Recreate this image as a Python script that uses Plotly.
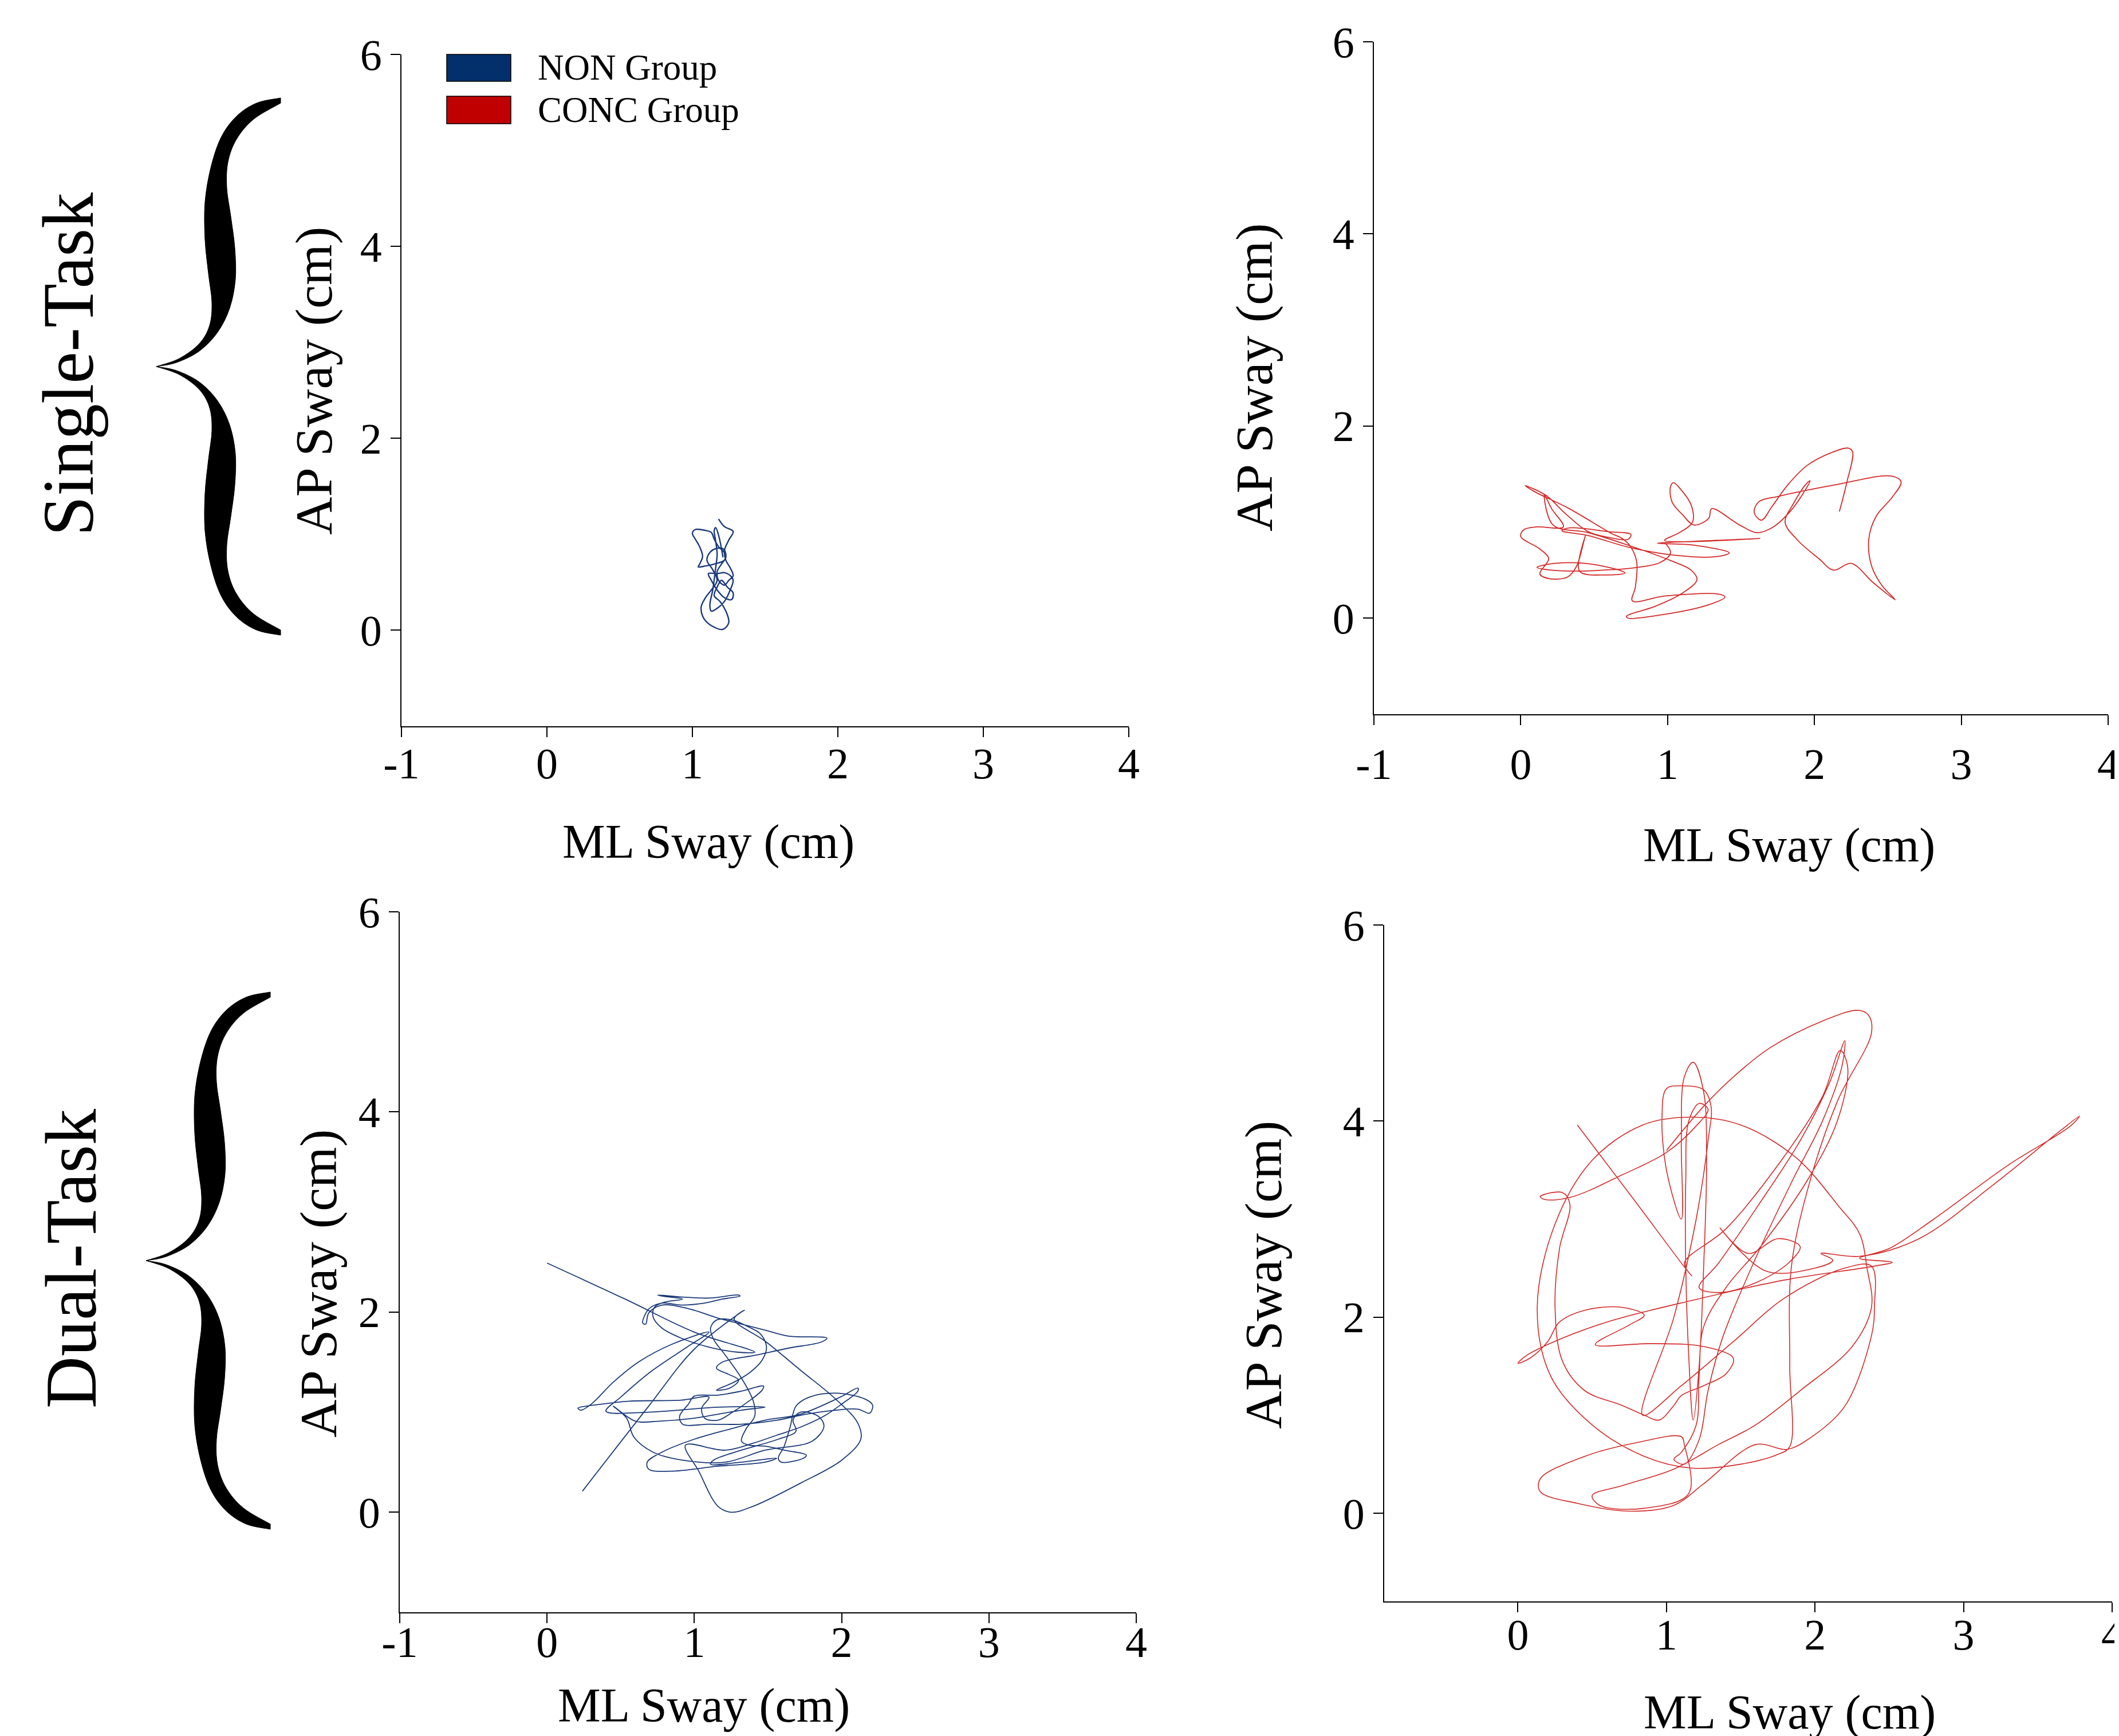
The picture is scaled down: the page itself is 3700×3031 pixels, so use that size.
import plotly.graph_objects as go

W, H = 3700, 3031
FONT = "Liberation Serif"
BLUE = "#1b3a7a"
RED = "#d42a2a"

# ---------------- data (cm) ----------------
# Single-task, NON group
st_non_x = [1.18,1.22,1.28,1.25,1.22,1.23,1.26,1.28,1.25,1.22,1.18,1.17,1.20,1.23,1.22,1.18,1.15,1.13,1.09,1.02,
            1.00,1.02,1.05,1.07,1.05,1.04,1.09,1.15,1.22,1.23,1.21,1.16,1.12,1.10,1.14,1.17,1.13,1.09,1.06,1.08,
            1.14,1.21,1.25,1.23,1.19,1.15,1.17,1.20,1.24,1.28,1.27,1.22,1.17,1.13,1.11,1.17,1.22,1.26,1.28,1.26,
            1.22,1.18,1.13,1.12,1.14,1.15,1.16,1.17,1.16,1.15,1.16,1.18,1.20,1.21]
st_non_y = [1.16,1.08,1.03,0.94,0.83,0.73,0.65,0.57,0.52,0.47,0.52,0.61,0.69,0.76,0.81,0.87,0.95,1.02,1.04,1.05,
            1.01,0.95,0.87,0.77,0.69,0.66,0.67,0.69,0.73,0.79,0.85,0.85,0.81,0.73,0.63,0.52,0.42,0.34,0.24,0.12,
            0.04,0.01,0.08,0.20,0.30,0.36,0.45,0.52,0.45,0.39,0.32,0.34,0.42,0.52,0.59,0.59,0.60,0.57,0.52,0.42,
            0.30,0.24,0.20,0.26,0.42,0.53,0.65,0.79,0.93,1.04,1.07,0.99,0.85,0.76]

# Single-task, CONC group
st_conc_x = [2.17,2.22,2.26,2.23,2.11,1.95,1.82,1.71,1.64,1.59,1.62,1.76,2.15,2.52,2.59,2.53,2.42,2.37,2.39,2.46,
             2.55,2.40,2.25,2.13,2.03,1.88,1.80,1.86,1.94,1.97,1.94,1.84,1.72,1.61,1.49,1.30,1.28,1.18,1.10,1.03,
             1.02,1.04,1.09,1.16,1.17,1.08,0.98,1.63,1.18,0.93,1.18,1.42,1.33,1.02,0.73,0.46,0.28,0.33,0.60,0.75,
             0.73,0.60,0.46,0.31,0.17,0.03,0.09,0.33,0.62,0.69,0.75,0.79,0.78,0.76,0.98,1.35,1.39,1.28,0.98,0.73,
             0.72,0.91,1.10,1.20,1.16,1.02,0.75,0.46,0.22,0.16,0.21,0.29,0.11,0.02,0.00,0.13,0.19,0.13,0.20,0.32,
             0.38,0.42,0.44,0.40,0.58,0.71,0.67,0.44,0.23,0.11,0.21,0.38,0.56,0.75,0.95,1.02,0.98]
st_conc_y = [1.11,1.41,1.73,1.77,1.72,1.59,1.39,1.16,1.02,1.10,1.21,1.27,1.39,1.48,1.42,1.26,1.06,0.82,0.54,0.34,
             0.19,0.37,0.57,0.50,0.62,0.82,1.00,1.20,1.39,1.43,1.34,1.12,0.95,0.89,0.97,1.14,1.04,0.97,1.08,1.21,
             1.37,1.41,1.34,1.18,1.00,0.89,0.81,0.83,0.80,0.78,0.76,0.68,0.64,0.66,0.74,0.86,0.91,0.94,0.90,0.87,
             0.82,0.84,0.90,1.08,1.28,1.38,1.32,1.14,0.88,0.83,0.74,0.58,0.32,0.18,0.23,0.25,0.22,0.14,0.04,0.00,
             0.02,0.12,0.26,0.40,0.50,0.60,0.75,0.89,0.97,1.29,1.14,0.95,0.95,0.92,0.85,0.72,0.62,0.46,0.41,0.43,
             0.54,0.74,0.86,0.49,0.45,0.47,0.50,0.57,0.57,0.53,0.50,0.49,0.50,0.52,0.58,0.68,0.79]

# Dual-task, NON group
dt_non_x = [0.00,0.53,1.00,1.41,1.29,1.10,0.91,0.78,0.72,0.73,0.80,0.92,0.78,0.75,0.92,1.10,1.30,1.31,1.19,1.07,
            0.91,0.78,0.69,0.65,0.67,0.69,0.78,0.97,1.16,1.32,1.48,1.64,1.90,1.86,1.64,1.42,1.19,1.15,1.23,1.30,
            1.24,1.15,1.27,1.38,1.46,1.49,1.45,1.37,1.26,1.15,1.11,1.13,1.21,1.32,1.40,1.41,1.35,1.32,1.37,1.48,
            1.61,1.76,1.74,1.59,1.57,1.61,1.65,1.69,1.78,1.96,2.16,2.21,2.19,2.11,1.96,1.76,1.56,1.32,1.10,0.92,
            0.90,0.96,1.00,1.16,1.32,1.47,1.46,1.37,1.26,1.16,1.07,1.05,1.10,
            0.91,0.56,0.37,0.21,0.23,0.30,0.45,0.62,0.85,1.10,0.95,0.70,0.50,0.40,
            0.69,1.16,1.48,1.32,1.00,0.76,0.60,0.45,0.54,0.59,0.72,0.92,1.21,
            1.48,1.80,1.88,1.84,1.72,1.67,1.69,1.57,1.32,1.13,1.11,1.32,1.56,1.48,1.16,0.84,0.69,0.68,0.78,1.00,
            1.24,1.48,1.72,1.99,2.11,2.11,2.00,1.88,1.72,1.56,1.40,1.21,
            0.94,1.03,1.16,1.25,1.40,1.72,2.00,2.13,2.11,1.96,1.72,1.48,1.27,1.34,
            1.00,0.69,0.24]
dt_non_y = [2.49,2.13,1.80,1.60,1.60,1.65,1.74,1.84,1.95,2.05,2.10,2.13,2.16,2.17,2.15,2.14,2.17,2.16,2.13,2.09,
            2.07,2.09,2.03,1.89,1.88,1.99,2.07,2.03,1.94,1.88,1.82,1.76,1.74,1.70,1.64,1.57,1.50,1.44,1.38,1.32,
            1.24,1.22,1.30,1.40,1.52,1.65,1.78,1.85,1.92,1.92,1.84,1.73,1.57,1.34,1.11,0.96,0.83,0.71,0.67,0.66,
            0.62,0.57,0.54,0.50,0.54,0.66,0.85,1.06,1.15,1.19,1.13,1.07,0.99,1.03,1.02,0.98,0.92,0.88,0.88,0.88,
            0.96,1.08,1.16,1.17,1.21,1.26,1.22,1.11,1.00,0.92,0.94,1.04,1.15,
            1.12,1.11,1.08,1.04,1.02,1.08,1.30,1.50,1.68,1.80,1.65,1.40,1.15,1.01,
            1.00,1.05,1.05,1.02,0.94,0.91,0.91,1.06,0.94,0.75,0.60,0.52,0.50,
            0.62,0.71,0.86,0.96,1.00,0.92,0.81,0.73,0.62,0.52,0.48,0.50,0.54,0.50,0.46,0.41,0.43,0.50,0.60,0.73,
            0.83,0.92,0.98,1.15,1.24,1.21,1.08,0.96,0.85,0.77,0.69,0.62,
            0.67,0.41,0.06,0.00,0.06,0.29,0.52,0.73,0.89,1.13,1.42,1.71,1.93,2.02,
            1.63,1.06,0.21]

# Dual-task, CONC group
dt_conc_x = [0.40,0.78,1.17,1.12,1.40,1.75,2.05,2.17,2.22,2.15,1.95,1.65,1.40,1.25,1.22,1.20,1.10,1.05,1.12,1.22,
             1.28,1.38,1.60,1.85,2.05,2.18,2.20,2.10,1.90,1.60,1.35,1.22,
             1.35,1.60,1.82,1.90,1.75,1.55,1.36,1.67,2.00,2.12,2.04,2.30,2.70,3.20,3.65,3.78,3.72,3.30,2.80,2.50,
             2.30,2.52,2.40,
             1.80,1.20,0.60,0.20,0.05,0.00,0.08,0.20,0.28,0.45,0.70,0.85,0.75,0.52,0.90,1.25,1.45,1.40,1.25,1.10,
             1.05,0.95,
             0.85,0.70,0.45,0.30,0.25,0.28,0.35,0.30,0.15,0.18,0.35,0.70,1.00,1.20,1.28,1.22,1.15,
             1.13,1.13,1.15,1.18,1.22,1.25,1.27,1.25,1.18,1.12,1.10,1.10,
             1.00,0.97,1.00,1.10,1.25,1.30,1.28,1.20,1.05,0.84,1.10,1.45,1.80,2.20,2.38,
             2.40,2.38,2.20,1.95,1.81,1.60,
             1.25,1.05,0.75,0.40,0.15,0.15,0.45,0.80,1.10,1.12,1.15,0.85,0.55,0.50,0.70,1.05,1.35,1.60,1.90,2.25,
             2.38,2.35,
             2.30,2.16,1.87,1.50,1.17,0.84,0.50,0.25,0.13,0.22,0.50,0.85,1.17,1.50,1.75,
             1.83,1.83,1.84,1.95,2.15,2.38,2.36,2.29,2.05,1.70,1.45,1.25,1.00]
dt_conc_y = [3.96,3.20,2.42,2.55,2.90,3.55,4.25,4.72,4.55,4.00,3.40,2.75,2.30,1.90,1.40,0.90,0.62,0.55,0.50,0.75,
             1.25,1.80,2.60,3.40,4.00,4.55,4.82,4.40,3.80,3.10,2.55,2.30,
             2.25,2.35,2.55,2.72,2.80,2.65,2.91,2.47,2.50,2.58,2.65,2.62,2.80,3.35,3.90,4.05,3.95,3.55,3.00,2.70,
             2.60,2.56,2.52,
             2.38,2.18,1.95,1.72,1.60,1.53,1.58,1.75,1.95,2.07,2.10,2.02,1.92,1.72,1.73,1.70,1.58,1.42,1.30,1.20,
             1.10,0.95,
             1.00,1.10,1.25,1.55,2.10,2.70,3.15,3.27,3.23,3.20,3.22,3.45,3.68,3.95,4.12,4.18,4.00,
             3.40,2.50,1.60,0.95,1.50,2.50,3.60,4.30,4.60,4.45,3.80,3.00,
             3.50,4.05,4.33,4.36,4.32,4.15,3.80,3.00,2.00,1.00,1.30,1.75,2.20,2.50,2.52,
             2.10,1.81,1.09,0.75,0.65,0.70,
             0.30,0.08,0.02,0.10,0.22,0.35,0.58,0.72,0.78,0.70,0.20,0.05,0.08,0.18,0.28,0.45,0.70,0.90,1.25,1.70,
             2.10,2.50,
             2.85,3.13,3.63,3.96,4.04,3.96,3.60,2.95,2.10,1.40,0.90,0.58,0.46,0.50,0.60,
             0.68,1.50,2.50,3.30,4.20,4.90,5.08,5.13,5.02,4.75,4.45,4.15,3.70]

x_ticks = [-1, 0, 1, 2, 3, 4]
x_ticks_dt_conc = [0, 1, 2, 3, 4]
y_ticks = [0, 2, 4, 6]
x_title = "ML Sway (cm)"
y_title = "AP Sway (cm)"
groups = ["NON Group", "CONC Group"]
conditions = ["Single-Task", "Dual-Task"]

# ---------------- layout geometry (pixels) ----------------
def px(x):
    return x / W

def py(y):
    return 1 - y / H

panels = [
    dict(x=st_non_x, y=st_non_y, color=BLUE, lw=2.4, xd=(693, 1963), yd=(87, 1260), xr=[-1, 4], yr=[-1, 6],
         xt=x_ticks, ytl=(540, 657), xtl=(1229, 1462), so=-19),
    dict(x=st_conc_x, y=st_conc_y, color=RED, lw=1.8, xd=(2391, 3673), yd=(65, 1239), xr=[-1, 4], yr=[-1, 6],
         xt=x_ticks, ytl=(2182, 651), xtl=(3116, 1468), so=3),
    dict(x=dt_non_x, y=dt_non_y, color=BLUE, lw=1.8, xd=(690, 1976), yd=(1584, 2807), xr=[-1, 4], yr=[-1, 6],
         xt=x_ticks, ytl=(548, 2233), xtl=(1221, 2970), so=-32),
    dict(x=dt_conc_x, y=dt_conc_y, color=RED, lw=1.6, xd=(2409, 3680), yd=(1607, 2788), xr=[-0.9, 4], yr=[-0.9, 6],
         xt=x_ticks_dt_conc, ytl=(2198, 2218), xtl=(3117, 2982), so=-26),
]

fig = go.Figure()
annotations = []
layout_axes = {}
for i, p in enumerate(panels, start=1):
    sfx = "" if i == 1 else str(i)
    fig.add_trace(go.Scatter(x=p["x"], y=p["y"], mode="lines",
                             line=dict(color=p["color"], width=p["lw"], shape="spline", smoothing=1.0),
                             xaxis="x" + sfx, yaxis="y" + sfx, showlegend=False, hoverinfo="skip"))
    common = dict(showline=True, linecolor="black", linewidth=2, ticks="outside", ticklen=17,
                  tickwidth=2, tickcolor="black", showgrid=False, zeroline=False, automargin=False,
                  ticklabeloverflow="allow",
                  tickfont=dict(family=FONT, size=76, color="black"))
    layout_axes["xaxis" + sfx] = dict(domain=[px(p["xd"][0]), px(p["xd"][1])], range=p["xr"],
                                      anchor="y" + sfx, tickmode="array", tickvals=p["xt"],
                                      ticktext=[str(t) for t in p["xt"]], ticklabelstandoff=p["so"],
                                      **common)
    layout_axes["yaxis" + sfx] = dict(domain=[py(p["yd"][1]), py(p["yd"][0])], range=p["yr"],
                                      anchor="x" + sfx, tickmode="array", tickvals=y_ticks,
                                      ticktext=[str(t) for t in y_ticks], **common)
    annotations.append(dict(text=y_title, x=px(p["ytl"][0]), y=py(p["ytl"][1]), xref="paper", yref="paper",
                            textangle=-90, showarrow=False, xanchor="center", yanchor="middle",
                            font=dict(family=FONT, size=92, color="black")))
    annotations.append(dict(text=x_title, x=px(p["xtl"][0]), y=py(p["xtl"][1]), xref="paper", yref="paper",
                            showarrow=False, xanchor="center", yanchor="middle",
                            font=dict(family=FONT, size=84, color="black")))

# condition labels
for label, (cx, cy) in zip(conditions, [(112, 628), (116, 2190)]):
    annotations.append(dict(text=label, x=px(cx), y=py(cy), xref="paper", yref="paper", textangle=-90,
                            showarrow=False, xanchor="center", yanchor="middle",
                            font=dict(family=FONT, size=126, color="black")))

# legend (swatches + labels)
shapes = []
for label, color, (y0, y1) in zip(groups, ["#03306b", "#c00000"], [(87, 134), (160, 208)]):
    shapes.append(dict(type="rect", xref="paper", yref="paper", x0=px(772), x1=px(884), y0=py(y1), y1=py(y0),
                       fillcolor=color, line=dict(color="black", width=1.5)))
    annotations.append(dict(text=label, x=px(929), y=py((y0 + y1) / 2), xref="paper", yref="paper",
                            showarrow=False, xanchor="left", yanchor="middle",
                            font=dict(family=FONT, size=63, color="black")))

# curly braces (decoration)
outer = [(482, 163), (440, 172), (405, 195), (378, 232), (360, 285), (350, 345), (350, 410), (356, 470),
         (362, 520), (358, 560), (340, 592), (305, 618), (265, 632)]
inner = [(265, 632), (300, 625), (340, 605), (372, 572), (393, 530), (403, 480), (402, 425), (395, 370),
         (388, 320), (390, 275), (405, 235), (435, 200), (482, 172)]


def smooth_path(pts):
    s = "M %.5f,%.5f" % (px(pts[0][0]), py(pts[0][1]))
    n = len(pts)
    for i in range(n - 1):
        p0 = pts[i - 1] if i > 0 else pts[i]
        p1, p2 = pts[i], pts[i + 1]
        p3 = pts[i + 2] if i + 2 < n else pts[i + 1]
        c1 = (p1[0] + (p2[0] - p0[0]) / 6, p1[1] + (p2[1] - p0[1]) / 6)
        c2 = (p2[0] - (p3[0] - p1[0]) / 6, p2[1] - (p3[1] - p1[1]) / 6)
        s += " C %.5f,%.5f %.5f,%.5f %.5f,%.5f" % (px(c1[0]), py(c1[1]), px(c2[0]), py(c2[1]),
                                                   px(p2[0]), py(p2[1]))
    return s


def crescent(o, inn):
    a = smooth_path(o)
    b = smooth_path(inn)
    return a + " L" + b[1:] + " Z"


for dx, dy in [(0, 0), (-18, 1561)]:
    for mirror in (False, True):
        def tr(pt):
            x, y = pt
            if mirror:
                y = 2 * 632 - y
            return (x + dx, y + dy)
        o = [tr(p) for p in outer]
        inn = [tr(p) for p in inner]
        shapes.append(dict(type="path", xref="paper", yref="paper", path=crescent(o, inn),
                           fillcolor="black", line=dict(color="black", width=1)))

fig.update_layout(width=W, height=H, autosize=False,
                  margin=dict(l=0, r=0, t=0, b=0, pad=0, autoexpand=False),
                  paper_bgcolor="white", plot_bgcolor="white", showlegend=False,
                  annotations=annotations, shapes=shapes, **layout_axes)
fig.write_html("out.html")
